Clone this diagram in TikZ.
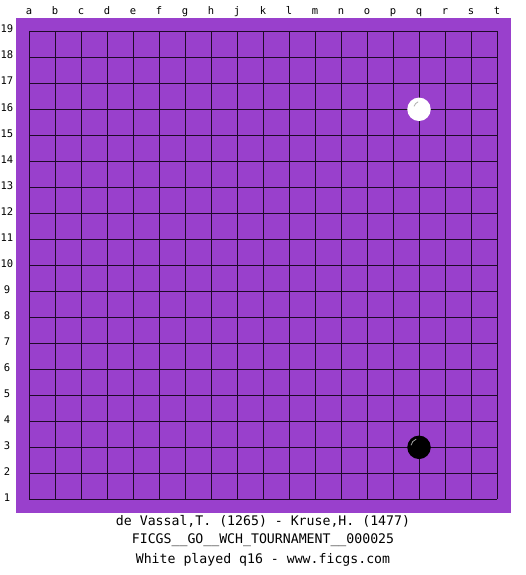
\documentclass[tikz,border=0pt]{standalone}
\usepackage{fontspec}
\setmonofont{DejaVu Sans Mono}
\definecolor{boardpurple}{RGB}{153,64,204}
\definecolor{gridline}{RGB}{30,10,40}
\begin{document}
\begin{tikzpicture}[x=1pt,y=-1pt,
  lbl/.style={font=\ttfamily\fontsize{10.5}{10.5}\selectfont,inner sep=0pt,anchor=base},
  caption/.style={font=\ttfamily\fontsize{13.2}{13.2}\selectfont,inner sep=0pt,anchor=base},
  whitestone/.style={circle,fill=white,minimum size=23.5pt,inner sep=0pt},
  blackstone/.style={circle,fill=black,minimum size=23.5pt,inner sep=0pt}]
\useasboundingbox (0,0) rectangle (525,575);
\fill[white] (0,0) rectangle (525,575);
\fill[boardpurple] (16,18) rectangle (511,512.5);
% grid
\foreach \i in {0,...,18}{
  \draw[gridline,line width=1pt] (29+\i*26,31.3) -- (29+\i*26,499.3);
  \draw[gridline,line width=1pt] (29,31.3+\i*26) -- (497,31.3+\i*26);
}
% column labels
\foreach \l [count=\i from 0] in {a,b,c,d,e,f,g,h,j,k,l,m,n,o,p,q,r,s,t}{
  \node[lbl] (col\l) at (29+\i*26,14.5) {\l};
}
% row labels
\foreach \n [count=\i from 0] in {19,18,...,1}{
  \node[lbl] (row\n) at (7,33+\i*26) {\n};
}
% stones
\node[whitestone] (q16) at (419,109.3) {};
\draw[gray!60,line width=0.8pt] ([shift={(-5,-3)}]q16.center) arc[start angle=200,end angle=245,radius=8];
\node[blackstone] (q3) at (419,447.3) {};
\draw[gray!70,line width=0.8pt] ([shift={(-8,-2)}]q3.center) arc[start angle=190,end angle=250,radius=8];
% captions
\node[caption] (c1) at (263,525) {de Vassal,T. (1265) - Kruse,H. (1477)};
\node[caption] (c2) at (263,543) {FICGS\_\_GO\_\_WCH\_TOURNAMENT\_\_000025};
\node[caption] (c3) at (263,563) {White played q16 - www.ficgs.com};
\end{tikzpicture}
\end{document}
